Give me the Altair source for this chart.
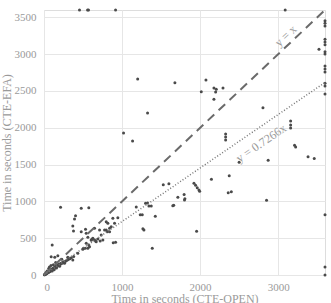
import altair as alt
import pandas as pd

# Scatter points: CTE-OPEN time (x) vs CTE-EFA time (y), seconds
open_s = [
    # timeouts on y (3600)
    455, 558, 570, 917, 3090,
    # timeouts on x (3600)
    3600, 3600, 3600, 3600, 3600, 3600, 3600, 3600, 3600, 3600, 3600, 3600, 3600, 3600, 3600, 3600, 3600, 3523,
    # upper / mid region
    1200, 1327, 1019, 1135, 1677, 2075, 2015, 2177, 2207, 2199, 2293, 2177, 2805, 3160, 3160, 3160,
    2327, 2327, 2327, 3210, 3224, 3383, 3462, 2500, 2872, 2145, 2373, 2360, 2400, 2851, 1955,
    1921, 1942, 1963, 1985, 1994, 1600, 1528, 1715, 1795, 1805, 1800, 1650, 1662,
    1182, 1301, 1327, 1344, 1374, 1233, 1259, 1426, 1267, 1280, 1387,
    # lower-middle region
    212, 477, 574, 404, 391, 369, 378, 532, 647, 105, 797, 882, 946, 904, 840, 797, 840,
    887, 917, 810, 690, 720, 660, 618, 562, 528, 583, 477, 541, 626, 669, 541, 605, 562, 497,
    818, 861, 776, 712, 733, 754, 647, 605, 574, 506, 433, 92, 369,
    # dense cluster near the origin
    5, 8, 12, 15, 18, 22, 25, 28, 32, 35, 38, 42, 45, 48, 52, 55, 58, 62, 65, 68, 72, 75, 78,
    82, 85, 90, 95, 98, 102, 108, 112, 118, 122, 128, 135, 140, 145, 150, 155, 160, 168, 175,
    180, 188, 195, 200, 210, 218, 225, 235, 245, 255, 265, 280, 295, 310, 330, 350, 380,
    70, 60, 90, 120, 150, 105, 130, 160, 200, 40, 25, 138, 177, 228, 305, 327, 263,
]
efa_s = [
    3600, 3600, 3600, 3600, 3600,
    3455, 3420, 3383, 3202, 3166, 3129, 3034, 3003, 2840, 2799, 2758, 2605, 2568, 2459, 819, 109, 0, 3066,
    2663, 2200, 1929, 1820, 2613, 2650, 2490, 2541, 2523, 2486, 2541, 2387, 2273, 2092, 2038, 1997,
    1916, 1875, 1834, 1762, 1739, 1608, 1583, 1531, 1558, 1302, 1349, 1118, 1132, 1015, 594,
    1245, 1219, 1186, 1155, 1137, 1240, 1227, 1056, 1092, 1037, 1019, 942, 946,
    924, 974, 978, 937, 937, 819, 819, 797, 629, 611, 363,
    920, 906, 915, 806, 761, 666, 598, 620, 634, 408, 724, 770, 779, 702, 634, 611, 588,
    439, 444, 588, 489, 462, 462, 489, 512, 363, 385, 588, 566, 498, 453, 430, 475, 363, 349,
    702, 656, 611, 611, 543, 475, 475, 475, 408, 363, 295, 249, 204,
    4, 5, 9, 8, 14, 15, 18, 22, 20, 27, 25, 30, 36, 31, 40, 35, 44, 47, 42, 52, 55, 48, 60,
    63, 55, 68, 72, 62, 80, 75, 88, 85, 95, 90, 105, 98, 110, 118, 105, 125, 120, 135,
    128, 145, 140, 150, 145, 160, 155, 170, 165, 180, 175, 190, 200, 210, 220, 235, 250,
    110, 90, 130, 140, 170, 55, 70, 95, 120, 55, 35, 241, 263, 213, 241, 227, 159,
]

slope = 0.7266
line_x = [0, 3600]
identity_y = [0, 3600]
fit_y = [0, 3600 * slope]

x_ticks = [0, 1000, 2000, 3000]
y_ticks = [0, 500, 1000, 1500, 2000, 2500, 3000, 3500]

FONT = "Liberation Serif"
GREY = "#9a9a9a"

pts = pd.DataFrame({"open": open_s, "efa": efa_s})
lines = pd.DataFrame({
    "open": line_x + line_x,
    "efa": identity_y + fit_y,
    "kind": ["identity", "identity", "fit", "fit"],
})

xs = alt.Scale(domain=[0, 3600], nice=False, zero=False)
ys = alt.Scale(domain=[0, 3600], nice=False, zero=False)

x_axis = alt.Axis(values=x_ticks, format="d", labelOverlap=False,
                  grid=True, domain=False, ticks=False,
                  labelPadding=6, titlePadding=1, labelFont=FONT,
                  titleFont=FONT, labelFontSize=11, titleFontSize=12,
                  labelColor=GREY, titleColor=GREY, titleFontWeight="normal",
                  gridColor="#e6e6e6")
y_axis = alt.Axis(values=y_ticks, format="d", labelOverlap=False,
                  grid=True, domain=False, ticks=False,
                  labelPadding=8, titlePadding=1, labelFont=FONT,
                  titleFont=FONT, labelFontSize=11, titleFontSize=12,
                  labelColor=GREY, titleColor=GREY, titleFontWeight="normal",
                  gridColor="#e6e6e6")

x_enc = alt.X("open:Q", scale=xs, title="Time in seconds (CTE-OPEN)", axis=x_axis)
y_enc = alt.Y("efa:Q", scale=ys, title="Time in seconds (CTE-EFA)", axis=y_axis)

scatter = alt.Chart(pts).mark_circle(size=9, color="#4a4a4a", opacity=1).encode(x=x_enc, y=y_enc)

identity = alt.Chart(lines).transform_filter(alt.datum.kind == "identity").mark_line(
    color="#6a6a6a", strokeWidth=2, strokeDash=[9, 6]
).encode(x=x_enc, y=y_enc)

fit = alt.Chart(lines).transform_filter(alt.datum.kind == "fit").mark_line(
    color="#777777", strokeWidth=1.5, strokeDash=[1, 2]
).encode(x=x_enc, y=y_enc)

labels = pd.DataFrame({
    "open": [3094, 2782],
    "efa": [3250, 1793],
    "txt": ["y = x", "y = 0.7266x"],
})
lab1 = alt.Chart(labels.iloc[[0]]).mark_text(
    font=FONT, fontSize=12, color=GREY, angle=316.7, align="center", baseline="middle"
).encode(x=x_enc, y=y_enc, text="txt:N")
lab2 = alt.Chart(labels.iloc[[1]]).mark_text(
    font=FONT, fontSize=12, color=GREY, angle=325.6, align="center", baseline="middle"
).encode(x=x_enc, y=y_enc, text="txt:N")

chart = alt.layer(scatter, identity, fit, lab1, lab2).properties(
    width=281, height=265,
    autosize=alt.AutoSizeParams(type="none"),
    padding={"left": 44, "top": 10, "right": 6, "bottom": 28},
).configure_view(stroke=None).configure(background="white")

chart.save("out.html", embed_options={"renderer": "svg", "actions": False})
